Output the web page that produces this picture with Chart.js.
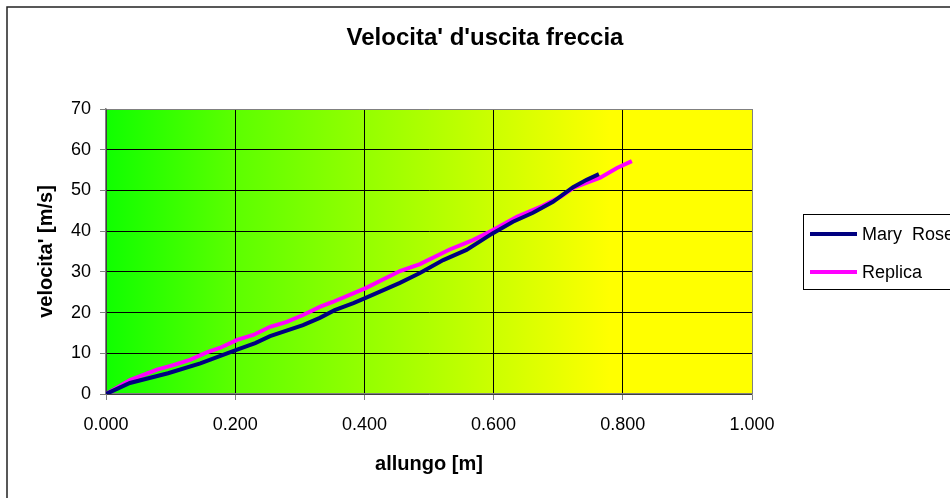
<!DOCTYPE html>
<html>
<head>
<meta charset="utf-8">
<title>Velocita' d'uscita freccia</title>
<script src="https://cdn.jsdelivr.net/npm/chart.js@4/dist/chart.umd.min.js"></script>
<style>
  body { margin: 0; background: #fff; }
  #box { width: 950px; height: 498px; position: relative; }
</style>
</head>
<body>
<div id="box"><canvas id="canvas"></canvas></div>
<script>
// dati
var allungoMary = [0, 0.037, 0.096, 0.146, 0.203, 0.231, 0.254, 0.305, 0.331, 0.354, 0.383, 0.402, 0.455, 0.486, 0.522, 0.558, 0.599, 0.630, 0.661, 0.692, 0.723, 0.744, 0.763];
var velMary = [0, 2.7, 5.1, 7.5, 10.9, 12.5, 14.2, 16.9, 18.7, 20.6, 22.3, 23.6, 27.3, 29.7, 32.9, 35.4, 39.5, 42.3, 44.5, 47.2, 50.8, 52.6, 54.0];

var allungoReplica = [0, 0.037, 0.079, 0.104, 0.130, 0.156, 0.176, 0.203, 0.228, 0.254, 0.280, 0.305, 0.331, 0.351, 0.402, 0.455, 0.486, 0.532, 0.568, 0.599, 0.636, 0.676, 0.703, 0.723, 0.765, 0.791, 0.814];
var velReplica = [0, 3.4, 6.0, 7.1, 8.4, 10.2, 11.3, 13.3, 14.5, 16.5, 17.7, 19.4, 21.4, 22.6, 26.0, 30.2, 31.9, 35.5, 37.8, 40.3, 43.5, 46.2, 48.4, 50.6, 53.1, 55.5, 57.2];

var nomiSerie = ['Mary  Rose', 'Replica'];
var coloriSerie = ['#000080', '#ff00ff'];
var tickX = [0, 0.2, 0.4, 0.6, 0.8, 1.0];

function punti(xs, ys){
  var out = [];
  for (var i = 0; i < xs.length; i++){
    out.push({x: xs[i], y: ys[i]});
  }
  return out;
}

var FONT = 'Liberation Sans, Arial, sans-serif';

// sfondo, bordo esterno e gradiente verde -> giallo
var sfondo = {
  id: 'sfondo',
  beforeDraw: function(chart){
    var ctx = chart.ctx, a = chart.chartArea;
    ctx.save();
    ctx.fillStyle = '#fff';
    ctx.fillRect(0, 0, chart.width, chart.height);
    ctx.strokeStyle = '#222';
    ctx.lineWidth = 1.5;
    ctx.strokeRect(7, 7, 1000, 1000);
    var g = ctx.createLinearGradient(a.left, 0, a.right, 0);
    g.addColorStop(0, '#10ff00');
    g.addColorStop(0.2, '#5cff00');
    g.addColorStop(0.53, '#b8ff00');
    g.addColorStop(0.78, '#ffff00');
    g.addColorStop(1, '#ffff00');
    ctx.fillStyle = g;
    ctx.fillRect(a.left, a.top, a.right - a.left, a.bottom - a.top);
    ctx.restore();
  }
};

// legenda con riquadro, come in Excel
var legenda = {
  id: 'legenda',
  afterDraw: function(chart){
    var ctx = chart.ctx;
    ctx.save();
    ctx.strokeStyle = '#000';
    ctx.lineWidth = 1;
    ctx.strokeRect(803.5, 214.5, 200, 75);
    ctx.font = '18px ' + FONT;
    ctx.textBaseline = 'middle';
    ctx.textAlign = 'left';
    chart.data.datasets.forEach(function(ds, i){
      var y = 234 + i * 38;
      ctx.strokeStyle = ds.borderColor;
      ctx.lineWidth = 4;
      ctx.beginPath();
      ctx.moveTo(810, y);
      ctx.lineTo(857, y);
      ctx.stroke();
      ctx.fillStyle = '#000';
      ctx.fillText(ds.label, 862, y + 1);
    });
    ctx.restore();
  }
};

var ctx = document.getElementById('canvas').getContext('2d');
var grafico = new Chart(ctx, {
  type: 'line',
  data: {
    datasets: [{
      label: nomiSerie[0],
      data: punti(allungoMary, velMary),
      borderColor: coloriSerie[0],
      backgroundColor: coloriSerie[0],
      borderWidth: 4,
      pointRadius: 0,
      tension: 0
    }, {
      label: nomiSerie[1],
      data: punti(allungoReplica, velReplica),
      borderColor: coloriSerie[1],
      backgroundColor: coloriSerie[1],
      borderWidth: 4,
      pointRadius: 0,
      tension: 0
    }]
  },
  plugins: [sfondo, legenda],
  options: {
    responsive: true,
    maintainAspectRatio: false,
    animation: false,
    layout: { padding: { left: 20, right: 0, top: 0, bottom: 0 } },
    plugins: {
      legend: { display: false },
      tooltip: { enabled: false },
      title: {
        display: true,
        text: "Velocita' d'uscita freccia",
        color: '#000',
        font: { family: FONT, size: 24, weight: 'bold' },
        padding: { top: 24.1, bottom: 56.1 }
      }
    },
    scales: {
      x: {
        type: 'linear',
        min: 0,
        max: 1,
        afterBuildTicks: function(s){
          s.ticks = tickX.map(function(v){ return {value: v}; });
        },
        afterFit: function(s){ s.height = 104; },
        ticks: {
          color: '#000',
          font: { family: FONT, size: 18 },
          padding: 14,
          maxRotation: 0,
          callback: function(v){ return Number(v).toFixed(3); }
        },
        grid: {
          color: function(c){ return c.tick && c.tick.value >= 1 ? '#808080' : '#000'; },
          tickColor: '#808080',
          tickLength: 6,
          lineWidth: 1
        },
        border: { color: '#808080', width: 1.5 },
        title: {
          display: true,
          text: 'allungo [m]',
          color: '#000',
          font: { family: FONT, size: 20, weight: 'bold' },
          padding: { top: 0, bottom: 22 }
        }
      },
      y: {
        min: 0,
        max: 70,
        afterFit: function(s){ s.width = 86; },
        ticks: {
          stepSize: 10,
          color: '#000',
          font: { family: FONT, size: 18 },
          padding: 9
        },
        grid: {
          color: function(c){ return c.tick && c.tick.value >= 70 ? '#808080' : '#000'; },
          tickColor: '#808080',
          tickLength: 6,
          lineWidth: 1
        },
        border: { color: '#808080', width: 1.5 },
        title: {
          display: true,
          text: "velocita' [m/s]",
          color: '#000',
          font: { family: FONT, size: 20, weight: 'bold' },
          padding: { top: 14, bottom: 0 }
        }
      },
      // asse vuoto che tiene il posto della legenda a destra
      spazio: {
        type: 'linear',
        position: 'right',
        display: true,
        afterFit: function(s){ s.width = 198; },
        ticks: { display: false },
        grid: { display: false, drawTicks: false },
        border: { display: false }
      }
    }
  }
});
</script>
</body>
</html>
